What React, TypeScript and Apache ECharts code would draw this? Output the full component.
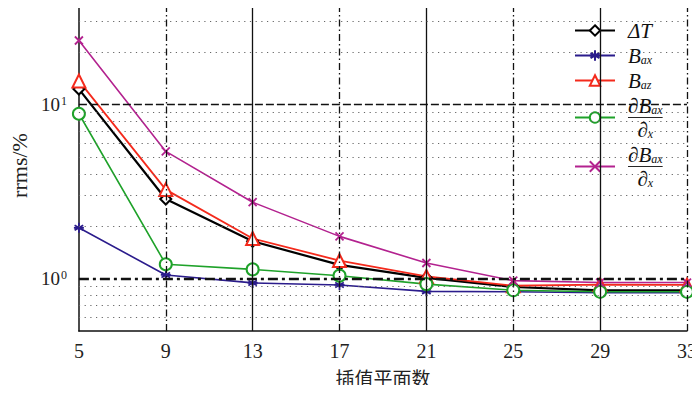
import React, { useEffect, useRef } from 'react';
import * as echarts from 'echarts';

const planes = [5, 9, 13, 17, 21, 25, 29, 33];
const deltaT = [12.3, 2.87, 1.64, 1.2, 1.01, 0.895, 0.857, 0.857];
const bAx = [1.96, 1.05, 0.945, 0.92, 0.845, 0.84, 0.83, 0.83];
const bAz = [13.7, 3.25, 1.7, 1.27, 1.03, 0.91, 0.924, 0.92];
const dBax = [8.87, 1.21, 1.13, 1.04, 0.93, 0.857, 0.84, 0.84];
const dBax2 = [23.4, 5.39, 2.75, 1.75, 1.23, 0.974, 0.95, 0.95];

const seriesNames = ['dT', 'Bax', 'Baz', 'dBax', 'dBax2'];
const minorY = [0.6, 0.7, 0.8, 0.9, 2, 3, 4, 5, 6, 7, 8, 9, 20, 30];
const solidX = [13, 21, 29];
const dashDotX = [9, 17, 25, 33];

const SERIF = "'Liberation Serif', 'Times New Roman', serif";

const asterisk = 'path://M5,0L5,10M0.7,2.5L9.3,7.5M9.3,2.5L0.7,7.5M0,5L10,5';
const cross = 'path://M0,0L10,10M10,0L0,10';

const frac = '{m|∂B}{s|ax}\n{gap| }\n{hr|}\n{gap| }\n{dm|∂}{ds|x}';
const legendText: Record<string, string> = {
  dT: '{m|ΔT}',
  Bax: '{m|B}{s|ax}',
  Baz: '{m|B}{s|az}',
  dBax: frac,
  dBax2: frac,
};

export default function App() {
  const ref = useRef<HTMLDivElement>(null);
  useEffect(() => {
    if (!ref.current) return;
    const chart = echarts.init(ref.current, undefined, { renderer: 'svg' });
    const pairs = (arr: number[]) => planes.map((x, i) => [x, arr[i]]);
    const mk = (
      name: string,
      arr: number[],
      color: string,
      symbol: string,
      symbolSize: number,
      width: number
    ) => ({
      name,
      type: 'line',
      z: 3,
      data: pairs(arr),
      symbol,
      symbolSize,
      lineStyle: { color, width },
      itemStyle: { color, borderColor: color, borderWidth: 1.8 },
      emphasis: { disabled: true },
    });
    const gridLines: any[] = [];
    solidX.forEach((x) =>
      gridLines.push({ xAxis: x, lineStyle: { color: '#111', width: 1.3, type: 'solid' } })
    );
    dashDotX.forEach((x) =>
      gridLines.push({ xAxis: x, lineStyle: { color: '#111', width: 1.3, type: [7, 3, 1.5, 3] } })
    );
    minorY.forEach((y) =>
      gridLines.push({ yAxis: y, lineStyle: { color: '#666', width: 1, type: [1.2, 4.5] } })
    );
    gridLines.push({ yAxis: 10, lineStyle: { color: '#111', width: 1.3, type: [8, 3] } });
    gridLines.push({ yAxis: 1, lineStyle: { color: '#111', width: 2.4, type: [10, 4, 3, 4] } });

    const mainTxt = { fontFamily: SERIF, fontStyle: 'italic', fontSize: 21, color: '#111', lineHeight: 20 };
    const subTxt = {
      fontFamily: SERIF,
      fontStyle: 'italic',
      fontSize: 12,
      color: '#111',
      lineHeight: 12,
      verticalAlign: 'bottom',
      padding: [8, 0, 0, 0],
    };

    chart.setOption({
      animation: false,
      grid: { left: 59, right: 8, top: 0, bottom: 62 },
      legend: {
        data: seriesNames,
        orient: 'vertical',
        left: 574,
        top: 20,
        padding: 0,
        itemWidth: 40,
        itemHeight: 13,
        itemGap: 4,
        selectedMode: false,
        formatter: (n: string) => legendText[n],
        textStyle: {
          color: '#111',
          fontFamily: SERIF,
          padding: [0, 0, 0, 8],
          rich: {
            m: mainTxt,
            s: subTxt,
            dm: { ...mainTxt, align: 'center' },
            ds: { ...subTxt, align: 'center' },
            gap: { fontSize: 2, lineHeight: 2 },
            hr: { borderColor: '#111', width: '100%', borderWidth: 0.7, height: 0, lineHeight: 0 },
          },
        },
      },
      xAxis: {
        type: 'value',
        min: 5,
        max: 33,
        interval: 4,
        name: '插值平面数',
        nameLocation: 'middle',
        nameGap: 37,
        nameTextStyle: { fontFamily: 'Noto Sans CJK SC', fontSize: 19, color: '#222' },
        axisLine: { lineStyle: { color: '#111', width: 1.5 } },
        axisTick: { show: false },
        axisLabel: { fontFamily: SERIF, fontSize: 20, color: '#222', margin: 10 },
        splitLine: { show: false },
      },
      yAxis: {
        type: 'log',
        logBase: 10,
        min: 0.5,
        max: 40,
        name: 'rrms/%',
        nameLocation: 'middle',
        nameGap: 30,
        nameTextStyle: { fontFamily: SERIF, fontSize: 22, color: '#222' },
        axisLine: { show: true, lineStyle: { color: '#111', width: 1.5 } },
        axisTick: { show: false },
        splitLine: { show: false },
        minorTick: { show: false },
        axisLabel: {
          margin: 12,
          showMinLabel: false,
          showMaxLabel: false,
          formatter: (v: number) => {
            const e = Math.round(Math.log10(v));
            if (Math.abs(v - Math.pow(10, e)) > 1e-6 * v) return '';
            return `{b|10}{sup|${e}}`;
          },
          rich: {
            b: { fontFamily: SERIF, fontSize: 19, color: '#222' },
            sup: { fontFamily: SERIF, fontSize: 12, color: '#222', verticalAlign: 'top', padding: [0, 0, 8, 1] },
          },
        },
      },
      series: [
        {
          name: 'grid',
          type: 'line',
          z: 1,
          data: [],
          silent: true,
          markLine: {
            silent: true,
            symbol: ['none', 'none'],
            label: { show: false },
            emphasis: { disabled: true },
            data: gridLines,
          },
        },
        mk('dT', deltaT, '#000000', 'emptyDiamond', 11, 2.2),
        mk('Bax', bAx, '#2b1c8c', asterisk, 10, 1.6),
        mk('Baz', bAz, '#f42a1c', 'emptyTriangle', 13, 1.8),
        mk('dBax', dBax, '#1fa22a', 'emptyCircle', 12, 1.6),
        mk('dBax2', dBax2, '#b3228f', cross, 8, 1.6),
      ],
    });
    return () => chart.dispose();
  }, []);
  return <div ref={ref} style={{ width: 700, height: 393, margin: -8 }} />;
}
